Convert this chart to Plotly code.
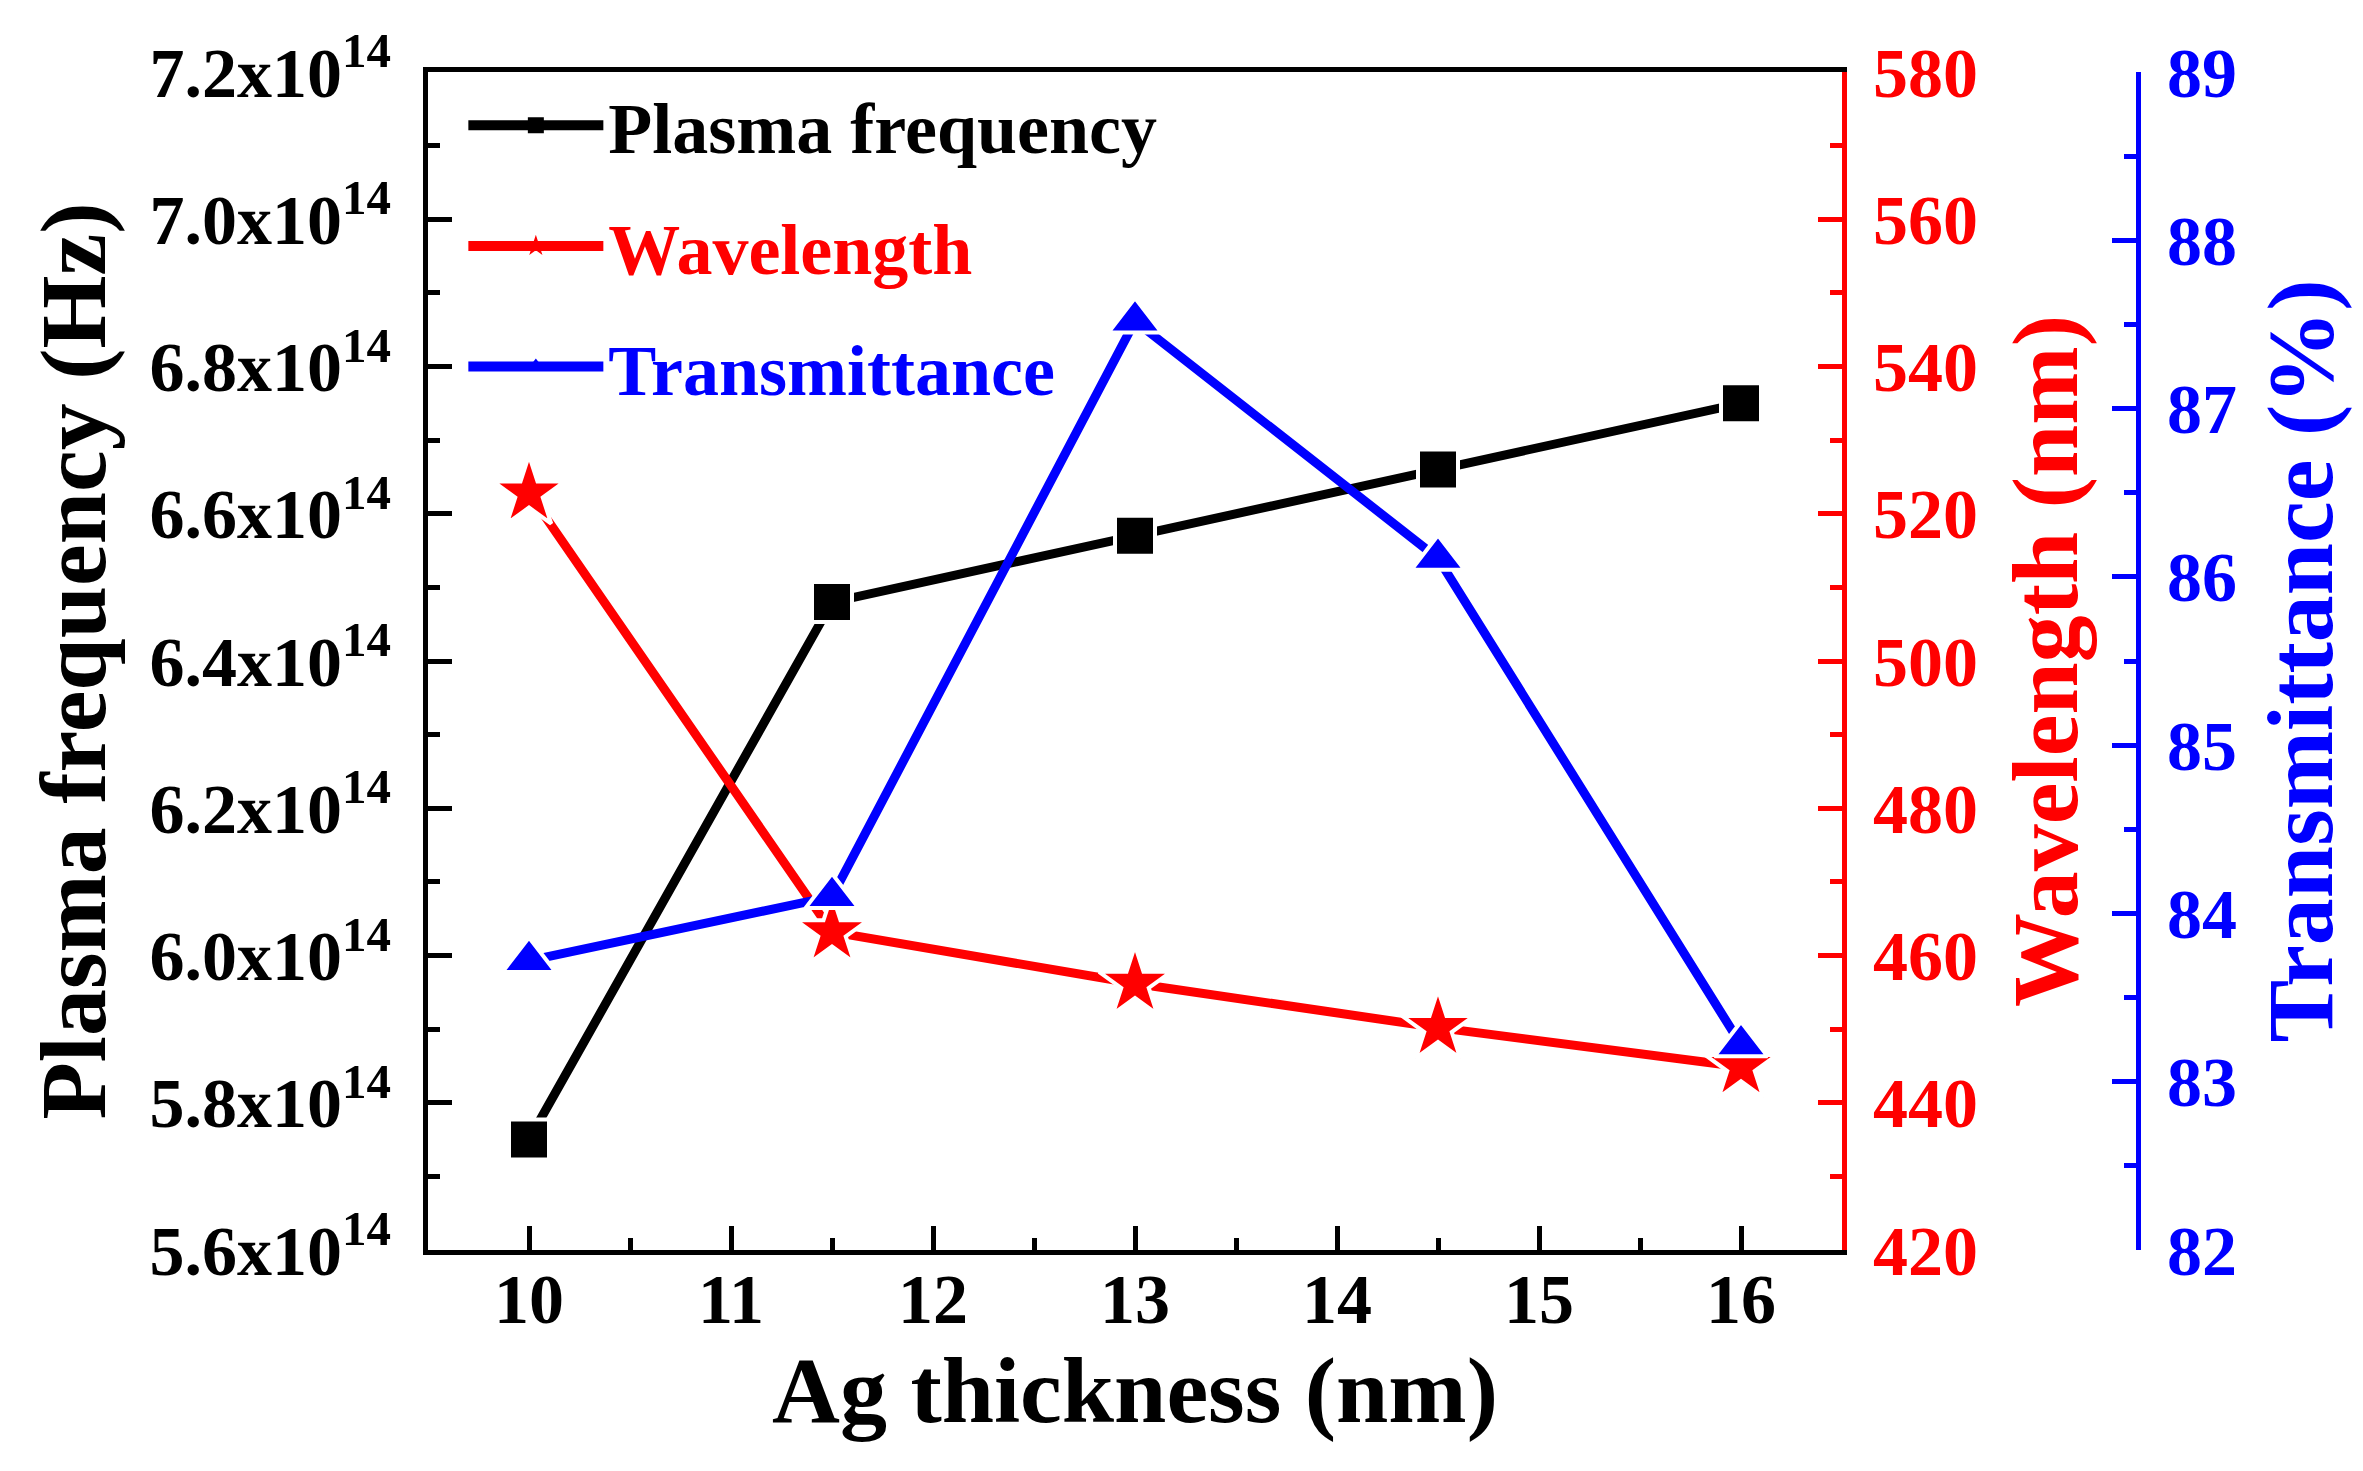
"""
Plasma frequency, wavelength and transmittance versus Ag thickness
"""
from plotly.graph_objects import Scatter, Figure

# donnees
thickness = [10, 11.5, 13, 14.5, 16]
plasma_freq = [5.75e14, 6.48e14, 6.57e14, 6.66e14, 6.75e14]
wavelength = [522.8, 463.2, 456.2, 450.2, 444.9]
transmittance = [83.72, 84.10, 87.52, 86.11, 83.22]

freq_ticks = [5.6e14, 5.8e14, 6.0e14, 6.2e14, 6.4e14, 6.6e14, 6.8e14, 7.0e14, 7.2e14]
freq_labels = ["5.6x10<sup>14</sup>", "5.8x10<sup>14</sup>", "6.0x10<sup>14</sup>",
               "6.2x10<sup>14</sup>", "6.4x10<sup>14</sup>", "6.6x10<sup>14</sup>",
               "6.8x10<sup>14</sup>", "7.0x10<sup>14</sup>", "7.2x10<sup>14</sup>"]

FONT = "Liberation Serif"
TICK = 70
TITLE = 94

# position des axes en pixels (figure 2363 x 1471)
W, H = 2363, 1471
LEFT, RIGHT_M = 420, 10
PLOT_RIGHT, BLUE_X = 1834, 2130


def axis_style(color, **kw):
    d = dict(
        showline=True, linecolor=color, linewidth=5,
        ticks="inside", ticklen=24, tickwidth=5, tickcolor=color,
        tickfont=dict(family=FONT, size=TICK, color=color, weight="bold"),
        showgrid=False, zeroline=False,
    )
    d.update(kw)
    return d


def legend_name(text, color):
    return '<span style="color:' + color + '">' + text + '</span>'


def add_series(fig, x, y, name, color, symbol, size, axis, group):
    # la serie (marqueurs avec un liseré blanc, comme dans Origin)
    fig.add_trace(Scatter(x=x, y=y, yaxis=axis, mode="lines+markers",
                          showlegend=False, legendgroup=group,
                          line=dict(color=color, width=9),
                          marker=dict(symbol=symbol, size=size, color=color,
                                      line=dict(color="white", width=4))))
    # entree de legende seule, sans liseré
    fig.add_trace(Scatter(x=[None], y=[None], yaxis=axis, mode="lines+markers",
                          name=legend_name(name, color), legendgroup=group,
                          line=dict(color=color, width=10),
                          marker=dict(symbol=symbol, size=size, color=color)))


def main():
    area = W - LEFT - RIGHT_M
    x_end = (PLOT_RIGHT - LEFT) / area
    blue_pos = (BLUE_X - LEFT) / area

    fig = Figure()
    add_series(fig, thickness, plasma_freq, "Plasma frequency", "black", "square", 40, "y", "a")
    add_series(fig, thickness, wavelength, "Wavelength", "red", "star", 54, "y2", "b")
    add_series(fig, thickness, transmittance, "Transmittance", "blue", "triangle-up", 46, "y3", "c")

    fig.update_layout(
        width=W, height=H,
        margin=dict(l=LEFT, r=RIGHT_M, t=64, b=229),
        paper_bgcolor="white", plot_bgcolor="white",
        font=dict(family=FONT, weight="bold"),
        xaxis=axis_style("black", range=[9.5, 16.5], dtick=1, mirror=True,
                         domain=[0, x_end], ticklabelstandoff=-16,
                         minor=dict(ticks="inside", dtick=0.5, ticklen=12,
                                    tickwidth=5, tickcolor="black"),
                         title=dict(text="Ag thickness (nm)", standoff=10,
                                    font=dict(family=FONT, size=TITLE, color="black", weight="bold"))),
        yaxis=axis_style("black", range=[5.6e14, 7.2e14], tickmode="array",
                         tickvals=freq_ticks, ticktext=freq_labels,
                         ticklabelstandoff=18,
                         minor=dict(ticks="inside", tickmode="linear", tick0=5.6e14, dtick=0.1e14,
                                    ticklen=12, tickwidth=5, tickcolor="black"),
                         title=dict(text="Plasma frequency (Hz)", standoff=14,
                                    font=dict(family=FONT, size=TITLE, color="black", weight="bold"))),
        yaxis2=axis_style("red", range=[420, 580], dtick=20, overlaying="y", side="right",
                          anchor="x", ticklabelstandoff=12,
                          minor=dict(ticks="inside", dtick=10, ticklen=12,
                                     tickwidth=5, tickcolor="red"),
                          title=dict(text="Wavelength (nm)", standoff=36,
                                     font=dict(family=FONT, size=TITLE, color="red", weight="bold"))),
        yaxis3=axis_style("blue", range=[82, 89], dtick=1, overlaying="y", side="right",
                          anchor="free", position=blue_pos, ticklabelstandoff=12,
                          minor=dict(ticks="inside", dtick=0.5, ticklen=12,
                                     tickwidth=5, tickcolor="blue"),
                          title=dict(text="Transmittance (%)", standoff=30,
                                     font=dict(family=FONT, size=TITLE, color="blue", weight="bold"))),
        legend=dict(x=0.025 * x_end, y=1.0, xanchor="left", yanchor="top",
                    bgcolor="rgba(0,0,0,0)", tracegroupgap=24, itemwidth=135,
                    font=dict(family=FONT, size=72, weight="bold")),
        showlegend=True,
    )
    fig.write_html("out.html")


if __name__ == "__main__":
    main()
